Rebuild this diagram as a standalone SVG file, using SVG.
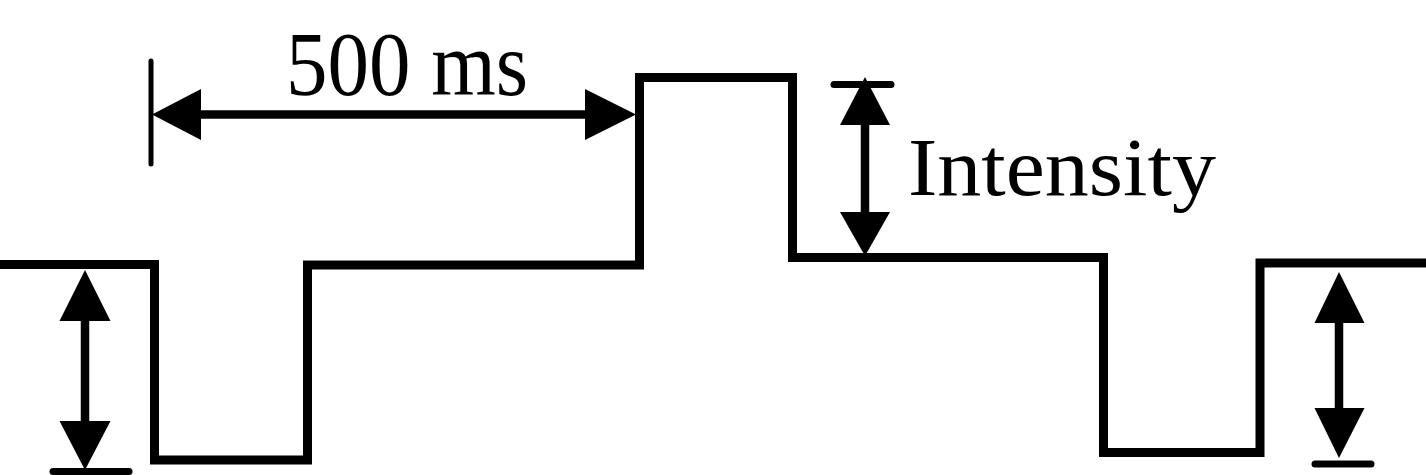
<svg xmlns="http://www.w3.org/2000/svg" width="1426" height="475" viewBox="0 0 1426 475">
<style>
.wave{fill:none;stroke:#000;stroke-width:9;stroke-linejoin:miter;stroke-linecap:butt}
.shaft{stroke:#000;stroke-width:8.5;fill:none}
.head{fill:#000;stroke:none}
.bar{stroke:#000;stroke-width:7;stroke-linecap:round}
.tick{stroke:#000;stroke-width:5;stroke-linecap:round}
.lbl{font-family:"Liberation Serif","Times New Roman",serif;fill:#000}
</style>
<rect width="1426" height="475" fill="#fff"/>
<g id="waveform">
<polyline class="wave" points="0,264.5 154.5,264.5 154.5,460 307.5,460 307.5,265 639.5,265 639.5,77.5 792.5,77.5 792.5,257.5 1103.5,257.5 1103.5,452.5 1260,452.5 1260,263 1426,263"/>
</g>
<g id="label-500ms">
<text class="lbl" x="286" y="95" font-size="91" textLength="242" lengthAdjust="spacingAndGlyphs">500 ms</text>
</g>
<g id="label-intensity">
<text class="lbl" x="908" y="195" font-size="82" textLength="308" lengthAdjust="spacingAndGlyphs">Intensity</text>
</g>
<g id="connectors">
<g id="arrow-left">
<line class="shaft" x1="85" y1="318" x2="85" y2="424"/>
<polygon class="head" points="85,270 59.5,321 110.5,321"/>
<polygon class="head" points="59.5,421 110.5,421 85,470"/>
<line class="bar" x1="53" y1="471.5" x2="129" y2="471.5"/>
</g>
<g id="arrow-500ms">
<line class="tick" x1="151" y1="61" x2="151" y2="164"/>
<line class="shaft" x1="198" y1="114.5" x2="588" y2="114.5" stroke-width="9"/>
<polygon class="head" points="152,114.5 201,89 201,140"/>
<polygon class="head" points="585,89 585,140 636,114.5"/>
</g>
<g id="arrow-intensity">
<line class="bar" x1="834" y1="84.5" x2="891" y2="84.5" stroke-width="6"/>
<line class="shaft" x1="865" y1="122" x2="865" y2="215"/>
<polygon class="head" points="865,77 840,125 890,125"/>
<polygon class="head" points="840,212 890,212 865,256"/>
</g>
<g id="arrow-right">
<line class="shaft" x1="1339" y1="320" x2="1339" y2="411"/>
<polygon class="head" points="1339,272 1314.5,323 1364.5,323"/>
<polygon class="head" points="1314.5,408 1364.5,408 1339,458"/>
<line class="bar" x1="1315" y1="464" x2="1371" y2="464" stroke-width="8"/>
</g>
</g>
</svg>
